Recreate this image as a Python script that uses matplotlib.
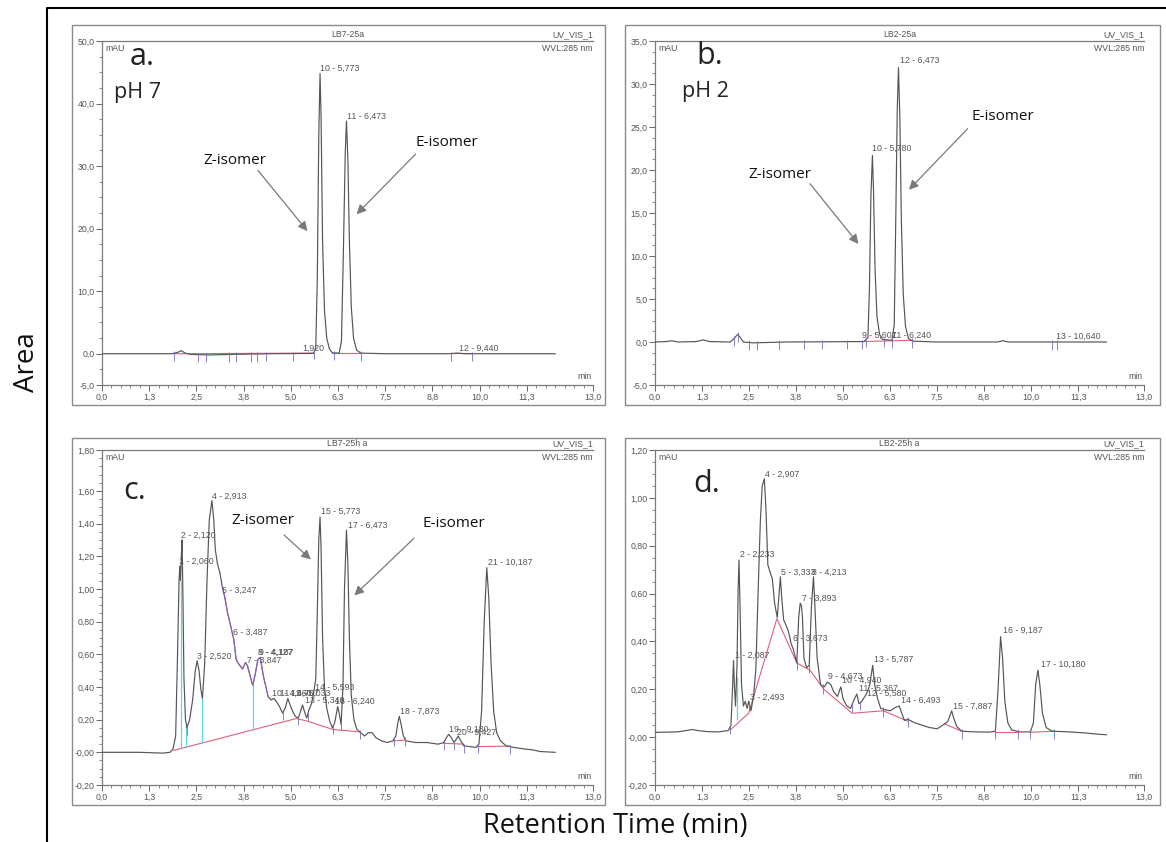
import numpy as np
import matplotlib
matplotlib.use("Agg")
import matplotlib.pyplot as plt
from matplotlib.patches import Rectangle
from matplotlib.lines import Line2D
from matplotlib.ticker import MultipleLocator, FixedLocator

# ---------------- data ----------------
x_tick_values = [0.0, 1.25, 2.5, 3.75, 5.0, 6.25, 7.5, 8.75, 10.0, 11.25, 13.0]
x_tick_labels = ["0,0", "1,3", "2,5", "3,8", "5,0", "6,3", "7,5", "8,8", "10,0", "11,3", "13,0"]

# panel a : LB7-25a (pH 7)
a_time = [0.0, 1.85, 2.0, 2.1, 2.2, 2.35, 2.8, 3.5, 4.5, 5.60, 5.66, 5.70, 5.74, 5.773, 5.80,
          5.84, 5.89, 5.95, 6.02, 6.10, 6.28, 6.34, 6.39, 6.44, 6.473, 6.51, 6.55, 6.60, 6.66,
          6.74, 6.85, 7.5, 9.2, 9.4, 9.6, 12.0]
a_signal = [0.0, 0.0, 0.2, 0.5, 0.1, -0.1, -0.2, -0.1, 0.0, 0.05, 1.0, 12.0, 35.0, 44.8, 38.0,
            18.0, 7.0, 2.5, 0.8, 0.15, 0.1, 2.0, 16.0, 32.0, 37.2, 31.0, 18.0, 7.5, 2.5,
            0.6, 0.1, 0.0, 0.0, 0.1, 0.0, 0.0]
a_peak_labels = ["10 - 5,773", "11 - 6,473", "1,920", "12 - 9,440"]
a_peak_label_t = [5.76, 6.48, 5.31, 9.44]
a_peak_label_v = [45.6, 38.0, 0.8, 0.9]
a_marks = [1.9, 2.55, 2.75, 3.35, 3.55, 3.95, 4.1, 4.35, 5.05, 5.62, 6.13, 6.85, 9.25, 9.8]
a_yticks = [-5.0, 0.0, 10.0, 20.0, 30.0, 40.0, 50.0]
a_ytick_labels = ["-5,0", "0,0", "10,0", "20,0", "30,0", "40,0", "50,0"]

# panel b : LB2-25a (pH 2)
b_time = [0.0, 0.3, 0.45, 0.6, 1.1, 1.28, 1.45, 2.0, 2.1, 2.2, 2.27, 2.35, 2.6, 3.5, 5.55, 5.66,
          5.70, 5.74, 5.78, 5.81, 5.85, 5.90, 5.97, 6.05, 6.30, 6.36, 6.40, 6.44, 6.473, 6.51,
          6.55, 6.60, 6.66, 6.74, 6.85, 7.5, 9.1, 9.25, 9.4, 12.0]
b_signal = [0.0, 0.05, 0.15, 0.0, 0.05, 0.25, 0.05, 0.0, 0.4, 0.9, 0.5, 0.0, -0.1, 0.0, 0.05, 0.5,
            6.0, 17.0, 21.7, 17.5, 8.5, 3.0, 0.9, 0.3, 0.2, 2.0, 14.0, 27.0, 31.9, 26.0,
            14.0, 5.5, 1.8, 0.4, 0.1, 0.0, 0.0, 0.15, 0.0, 0.0]
b_peak_labels = ["12 - 6,473", "10 - 5,780", "13 - 10,640", "9 - 5,607", "11 - 6,240"]
b_peak_label_t = [6.50, 5.78, 10.66, 5.49, 6.29]
b_peak_label_v = [32.7, 22.5, 0.66, 0.78, 0.78]
b_marks = [2.1, 2.2, 2.5, 2.7, 3.3, 3.95, 4.45, 5.1, 5.5, 5.62, 6.1, 6.3, 6.82, 10.55, 10.7]
b_yticks = [-5.0, 0.0, 5.0, 10.0, 15.0, 20.0, 25.0, 30.0, 35.0]
b_ytick_labels = ["-5,0", "0,0", "5,0", "10,0", "15,0", "20,0", "25,0", "30,0", "35,0"]

# panel c : LB7-25h a
c_time = [0.0, 1.0, 1.6, 1.80, 1.88, 1.95, 2.00, 2.04, 2.06, 2.08, 2.10, 2.12, 2.14, 2.17, 2.21,
          2.25, 2.32, 2.40, 2.47, 2.52, 2.57, 2.62, 2.66, 2.72, 2.78, 2.84, 2.91, 2.96, 3.00,
          3.06, 3.12, 3.18, 3.25, 3.32, 3.40, 3.49, 3.55, 3.62, 3.72, 3.80, 3.85, 3.92, 3.99,
          4.05, 4.13, 4.19, 4.27, 4.33, 4.40, 4.48, 4.55, 4.62, 4.70, 4.78, 4.85, 4.92, 4.98,
          5.05, 5.12, 5.20, 5.27, 5.31, 5.36, 5.42, 5.48, 5.55, 5.60, 5.66, 5.70, 5.74, 5.773,
          5.80, 5.84, 5.89, 5.95, 6.03, 6.10, 6.16, 6.24, 6.28, 6.33, 6.38, 6.42, 6.473, 6.51,
          6.55, 6.60, 6.67, 6.75, 6.85, 6.95, 7.05, 7.15, 7.25, 7.40, 7.55, 7.70, 7.78, 7.84,
          7.873, 7.92, 7.98, 8.05, 8.30, 8.60, 8.90, 9.05, 9.12, 9.18, 9.25, 9.32, 9.38, 9.43,
          9.50, 9.58, 9.75, 9.90, 9.98, 10.05, 10.12, 10.187, 10.24, 10.30, 10.37, 10.45,
          10.55, 10.70, 10.90, 11.20, 11.40, 11.60, 12.0]
c_signal = [0.0, 0.0, -0.005, 0.0, 0.02, 0.10, 0.60, 1.05, 1.14, 1.05, 1.20, 1.30, 1.00, 0.45, 0.20,
            0.15, 0.20, 0.32, 0.50, 0.56, 0.50, 0.38, 0.33, 0.55, 1.05, 1.42, 1.54, 1.42, 1.24,
            1.15, 1.10, 1.02, 0.95, 0.86, 0.78, 0.69, 0.57, 0.54, 0.51, 0.55, 0.53, 0.47, 0.41,
            0.47, 0.57, 0.58, 0.47, 0.41, 0.34, 0.32, 0.33, 0.31, 0.28, 0.24, 0.27, 0.33, 0.29,
            0.25, 0.22, 0.21, 0.26, 0.29, 0.25, 0.21, 0.26, 0.30, 0.36, 0.45, 0.85, 1.30, 1.44,
            1.25, 0.70, 0.40, 0.27, 0.19, 0.15, 0.18, 0.28, 0.24, 0.17, 0.40, 1.00, 1.36, 1.15,
            0.70, 0.35, 0.20, 0.14, 0.12, 0.10, 0.12, 0.12, 0.09, 0.07, 0.06, 0.07, 0.10, 0.19,
            0.22, 0.17, 0.10, 0.07, 0.06, 0.06, 0.05, 0.06, 0.09, 0.11, 0.09, 0.06, 0.08, 0.10,
            0.07, 0.04, 0.035, 0.03, 0.05, 0.25, 0.80, 1.13, 0.95, 0.55, 0.25, 0.12,
            0.07, 0.04, 0.03, 0.02, 0.015, 0.005, 0.0]
c_peak_labels = ["1 - 2,060", "2 - 2,120", "3 - 2,520", "4 - 2,913", "5 - 3,247", "6 - 3,487",
                 "7 - 3,847", "8 - 4,127", "9 - 4,187", "10 - 4,560", "11 - 4,707", "12 - 5,033",
                 "14 - 5,593", "13 - 5,340", "15 - 5,773", "16 - 6,240", "17 - 6,473",
                 "18 - 7,873", "19 - 9,180", "20 - 9,427", "21 - 10,187"]
c_peak_label_t = [2.04, 2.10, 2.52, 2.90, 3.19, 3.46, 3.84, 4.13, 4.16, 4.51, 4.72, 5.00,
                  5.63, 5.37, 5.79, 6.16, 6.52, 7.90, 9.19, 9.41, 10.22]
c_peak_label_v = [1.168, 1.329, 0.589, 1.564, 0.991, 0.732, 0.561, 0.609, 0.615, 0.364, 0.364,
                  0.364, 0.398, 0.318, 1.473, 0.314, 1.389, 0.253, 0.143, 0.123, 1.162]
c_base_t = [[1.90, 5.15, 5.45, 6.11, 6.83], [7.73, 8.02], [9.05, 9.58], [9.95, 10.80]]
c_base_v = [[0.012, 0.207, 0.19, 0.14, 0.125], [0.07, 0.075], [0.055, 0.05], [0.035, 0.038]]
c_drop_t = [2.09, 2.23, 2.66, 3.99]
c_drop_bottom = [0.023, 0.032, 0.058, 0.137]
c_drop_top = [1.05, 0.17, 0.33, 0.41]
c_marks = [2.25, 4.78, 5.2, 5.45, 6.11, 6.32, 6.83, 7.73, 8.02, 9.05, 9.32, 9.58, 9.95, 10.80]
c_yticks = [-0.2, 0.0, 0.2, 0.4, 0.6, 0.8, 1.0, 1.2, 1.4, 1.6, 1.85]
c_ytick_labels = ["-0,20", "-0,00", "0,20", "0,40", "0,60", "0,80", "1,00", "1,20", "1,40",
                  "1,60", "1,80"]

# panel d : LB2-25h a
d_time = [0.0, 0.3, 0.6, 0.85, 1.0, 1.15, 1.4, 1.7, 1.95, 2.02, 2.06, 2.087, 2.11, 2.14, 2.18,
          2.21, 2.233, 2.26, 2.30, 2.35, 2.40, 2.45, 2.49, 2.55, 2.62, 2.68, 2.74, 2.80, 2.85,
          2.907, 2.95, 3.00, 3.06, 3.12, 3.18, 3.25, 3.29, 3.333, 3.37, 3.42, 3.48, 3.55, 3.62,
          3.673, 3.72, 3.77, 3.82, 3.86, 3.893, 3.92, 3.96, 4.03, 4.10, 4.16, 4.213, 4.25, 4.31,
          4.40, 4.50, 4.58, 4.673, 4.75, 4.85, 4.94, 5.00, 5.10, 5.20, 5.30, 5.367, 5.42, 5.50,
          5.58, 5.65, 5.71, 5.787, 5.84, 5.92, 6.00, 6.10, 6.25, 6.40, 6.493, 6.56, 6.63, 6.72,
          6.90, 7.10, 7.30, 7.50, 7.65, 7.78, 7.84, 7.887, 7.94, 8.02, 8.15, 8.50, 8.90, 9.05,
          9.12, 9.187, 9.24, 9.30, 9.38, 9.48, 9.70, 9.98, 10.06, 10.12, 10.18, 10.23, 10.30,
          10.40, 10.55, 11.00, 11.40, 11.80, 12.0]
d_signal = [0.02, 0.021, 0.022, 0.028, 0.032, 0.027, 0.023, 0.022, 0.028, 0.05, 0.20, 0.32, 0.22,
            0.13, 0.30, 0.62, 0.74, 0.55, 0.22, 0.13, 0.15, 0.12, 0.15, 0.11, 0.17, 0.28, 0.60,
            0.90, 1.05, 1.08, 0.95, 0.72, 0.69, 0.66, 0.56, 0.50, 0.58, 0.67, 0.58, 0.49, 0.47,
            0.44, 0.39, 0.37, 0.34, 0.31, 0.50, 0.56, 0.55, 0.50, 0.33, 0.29, 0.30, 0.55, 0.67,
            0.55, 0.33, 0.22, 0.21, 0.23, 0.22, 0.19, 0.17, 0.21, 0.16, 0.13, 0.12, 0.16, 0.18,
            0.14, 0.15, 0.17, 0.19, 0.22, 0.30, 0.22, 0.16, 0.12, 0.115, 0.11, 0.125, 0.13, 0.10,
            0.07, 0.075, 0.06, 0.05, 0.04, 0.035, 0.05, 0.065, 0.09, 0.11, 0.08, 0.045, 0.025,
            0.022, 0.021, 0.025, 0.20, 0.42, 0.33, 0.15, 0.06, 0.03, 0.022, 0.022, 0.06, 0.22,
            0.28, 0.22, 0.10, 0.04, 0.025, 0.022, 0.018, 0.012, 0.01]
d_peak_labels = ["1 - 2,087", "2 - 2,233", "3 - 2,493", "4 - 2,907", "5 - 3,333", "8 - 4,213",
                 "7 - 3,893", "6 - 3,673", "9 - 4,673", "10 - 4,940", "11 - 5,367",
                 "12 - 5,580", "13 - 5,787", "14 - 6,493", "15 - 7,887", "16 - 9,187",
                 "17 - 10,180"]
d_peak_label_t = [2.12, 2.26, 2.52, 2.93, 3.35, 4.18, 3.92, 3.68, 4.61, 4.98, 5.42, 5.64, 5.81,
                  6.54, 7.93, 9.25, 10.26]
d_peak_label_v = [0.344, 0.765, 0.166, 1.099, 0.689, 0.689, 0.58, 0.411, 0.254, 0.236, 0.204,
                  0.184, 0.327, 0.156, 0.128, 0.446, 0.306]
d_base_t = [[2.0, 2.49, 3.24, 3.77, 4.12, 4.49, 5.24, 6.07, 6.72], [7.70, 8.15], [9.05, 9.65],
            [9.98, 10.62]]
d_base_v = [[0.03, 0.10, 0.495, 0.31, 0.28, 0.20, 0.10, 0.11, 0.067], [0.055, 0.025],
            [0.02, 0.02], [0.02, 0.025]]
d_drop_t = [2.17]
d_drop_bottom = [0.07]
d_drop_top = [0.25]
d_marks = [2.0, 2.5, 3.77, 4.1, 4.47, 5.24, 5.45, 6.07, 6.72, 8.15, 9.05, 9.65, 9.98, 10.62]
d_yticks = [-0.2, 0.0, 0.2, 0.4, 0.6, 0.8, 1.0, 1.2]
d_ytick_labels = ["-0,20", "-0,00", "0,20", "0,40", "0,60", "0,80", "1,00", "1,20"]

# ---------------- figure ----------------
W, H = 1166, 842
fig = plt.figure(figsize=(W / 100, H / 100), dpi=100)
fig.patch.set_facecolor("white")

SMALL = dict(family=["Liberation Sans", "DejaVu Sans"], size=6.3, color="#555555")
BIG = ["Open Sans", "DejaVu Sans"]


def frac_rect(l, t, r, b):
    return [l / W, 1 - b / H, (r - l) / W, (b - t) / H]


def panel(ax_px, box_px, t, s, ylim, yticks, ylabels, yminor, title, letter, letter_pos,
          ph=None, ph_pos=None, labels=None, lab_t=None, lab_v=None, marks=None,
          base_t=None, base_v=None, drop_t=None, drop_b=None, drop_top=None,
          z_pos=None, z_arrow=None, e_pos=None, e_arrow=None, purple=None):
    fig.add_artist(Rectangle((box_px[0] / W, 1 - box_px[3] / H),
                             (box_px[2] - box_px[0]) / W, (box_px[3] - box_px[1]) / H,
                             transform=fig.transFigure, fill=False, edgecolor="#8a8a8a", lw=1.0))
    ax = fig.add_axes(frac_rect(*ax_px))
    ax.set_xlim(0, 13.0)
    ax.set_ylim(*ylim)
    for sp in ["left", "bottom", "top"]:
        ax.spines[sp].set_color("#7a7a7a")
        ax.spines[sp].set_linewidth(0.9)
    ax.spines["right"].set_visible(False)
    ax.xaxis.set_major_locator(FixedLocator(x_tick_values))
    ax.set_xticklabels(x_tick_labels)
    ax.xaxis.set_minor_locator(MultipleLocator(0.25))
    ax.yaxis.set_major_locator(FixedLocator(yticks))
    ax.set_yticklabels(ylabels)
    ax.yaxis.set_minor_locator(MultipleLocator(yminor))
    ax.tick_params(which="major", direction="out", length=4, width=0.7, color="#666666",
                   labelsize=6.3, labelcolor="#555555", pad=1.5)
    ax.tick_params(which="minor", direction="out", length=2, width=0.6, color="#777777")
    for lab in ax.get_xticklabels() + ax.get_yticklabels():
        lab.set_family(["Liberation Sans", "DejaVu Sans"])

    yr = ylim[1] - ylim[0]
    # integration baselines
    if base_t is not None:
        for bt, bv in zip(base_t, base_v):
            ax.plot(bt, bv, color="#e0607a", lw=0.8, zorder=2)
    if drop_t is not None:
        ax.vlines(drop_t, drop_b, drop_top, color="#5fd3e8", lw=0.9, zorder=2)
    # trace
    ax.plot(t, s, color="#555555", lw=0.85, zorder=3)
    if purple is not None:
        tt = np.array(t)
        ss = np.array(s)
        m = (tt >= purple[0]) & (tt <= purple[1])
        ax.plot(tt[m], ss[m], color="#a060d0", lw=0.8, alpha=0.8, zorder=3)
    if marks is not None:
        mv = np.interp(marks, t, s)
        ax.vlines(marks, mv - 0.022 * yr, mv + 0.006 * yr, color="#7070b8", lw=0.6, zorder=4)
    # peak labels
    if labels is not None:
        for txt, lt, lv in zip(labels, lab_t, lab_v):
            ax.text(lt, lv, txt, ha="left", va="center", zorder=5, **SMALL)
    # header texts
    ax.text(0.5, 1.006, title, transform=ax.transAxes, ha="center", va="bottom", **SMALL)
    ax.text(1.0, 1.006, "UV_VIS_1", transform=ax.transAxes, ha="right", va="bottom", **SMALL)
    ax.text(1.0, 0.992, "WVL:285 nm", transform=ax.transAxes, ha="right", va="top", **SMALL)
    ax.text(0.006, 0.99, "mAU", transform=ax.transAxes, ha="left", va="top", **SMALL)
    ax.text(0.998, 0.012, "min", transform=ax.transAxes, ha="right", va="bottom", **SMALL)
    # big labels
    ax.text(letter_pos[0], letter_pos[1], letter, ha="center", va="center",
            family=BIG, fontsize=22, color="#222222")
    if ph is not None:
        ax.text(ph_pos[0], ph_pos[1], ph, ha="center", va="center", family=BIG,
                fontsize=15.5, color="#222222")
    arrowprops = dict(arrowstyle="-|>", color="#7a7a7a", lw=0.9, mutation_scale=14,
                      shrinkA=0, shrinkB=0)
    if z_pos is not None:
        ax.text(z_pos[0], z_pos[1], "Z-isomer", ha="center", va="center", family=BIG,
                fontsize=11, color="#111111")
        ax.annotate("", xy=z_arrow[1], xytext=z_arrow[0], arrowprops=arrowprops)
    if e_pos is not None:
        ax.text(e_pos[0], e_pos[1], "E-isomer", ha="center", va="center", family=BIG,
                fontsize=11, color="#111111")
        ax.annotate("", xy=e_arrow[1], xytext=e_arrow[0], arrowprops=arrowprops)
    return ax


panel((102, 41, 593, 385), (72, 25, 605, 405), a_time, a_signal, (-5.0, 50.0), a_yticks,
      a_ytick_labels, 2.5, "LB7-25a", "a.", (1.05, 47.4), ph="pH 7", ph_pos=(0.95, 41.8),
      labels=a_peak_labels, lab_t=a_peak_label_t, lab_v=a_peak_label_v, marks=a_marks,
      base_t=[[1.9, 5.6], [6.1, 6.85], [9.25, 9.8]], base_v=[[0.0, 0.1], [0.1, 0.1], [0.05, 0.05]],
      z_pos=(3.51, 30.9), z_arrow=((4.13, 29.3), (5.44, 19.6)),
      e_pos=(9.13, 33.7), e_arrow=((8.30, 31.9), (6.74, 22.3)))

panel((655, 41, 1144, 385), (625, 25, 1160, 405), b_time, b_signal, (-5.0, 35.0), b_yticks,
      b_ytick_labels, 1.25, "LB2-25a", "b.", (1.45, 33.3), ph="pH 2", ph_pos=(1.35, 29.1),
      labels=b_peak_labels, lab_t=b_peak_label_t, lab_v=b_peak_label_v, marks=b_marks,
      base_t=[[5.5, 6.85]], base_v=[[0.05, 0.2]],
      z_pos=(3.33, 19.5), z_arrow=((4.12, 18.4), (5.41, 11.4)),
      e_pos=(9.25, 26.2), e_arrow=((8.31, 24.8), (6.75, 17.7)))

panel((102, 450, 593, 785), (72, 438, 605, 805), c_time, c_signal, (-0.2, 1.85), c_yticks,
      c_ytick_labels, 0.05, "LB7-25h a", "c.", (0.86, 1.60),
      labels=c_peak_labels, lab_t=c_peak_label_t, lab_v=c_peak_label_v, marks=c_marks,
      base_t=c_base_t, base_v=c_base_v, drop_t=c_drop_t, drop_b=c_drop_bottom,
      drop_top=c_drop_top, purple=(3.18, 4.45),
      z_pos=(4.26, 1.42), z_arrow=((4.82, 1.33), (5.53, 1.18)),
      e_pos=(9.31, 1.40), e_arrow=((8.26, 1.31), (6.68, 0.96)))

panel((655, 450, 1144, 785), (625, 438, 1160, 805), d_time, d_signal, (-0.2, 1.2), d_yticks,
      d_ytick_labels, 0.05, "LB2-25h a", "d.", (1.38, 1.06),
      labels=d_peak_labels, lab_t=d_peak_label_t, lab_v=d_peak_label_v, marks=d_marks,
      base_t=d_base_t, base_v=d_base_v, drop_t=d_drop_t, drop_b=d_drop_bottom,
      drop_top=d_drop_top)

# outer frame (left and top lines)
fig.add_artist(Line2D([47 / W, 47 / W, 1.0], [0.0, 1 - 8 / H, 1 - 8 / H],
                      transform=fig.transFigure, color="black", lw=1.5))

fig.text(615 / W, 1 - 826 / H, "Retention Time (min)", ha="center", va="center",
         family=BIG, fontsize=19.5, color="#111111")
fig.text(27 / W, 1 - 362 / H, "Area", ha="center", va="center", rotation=90,
         family=BIG, fontsize=20, color="#111111")

fig.savefig("out.png", dpi=100, facecolor="white")
